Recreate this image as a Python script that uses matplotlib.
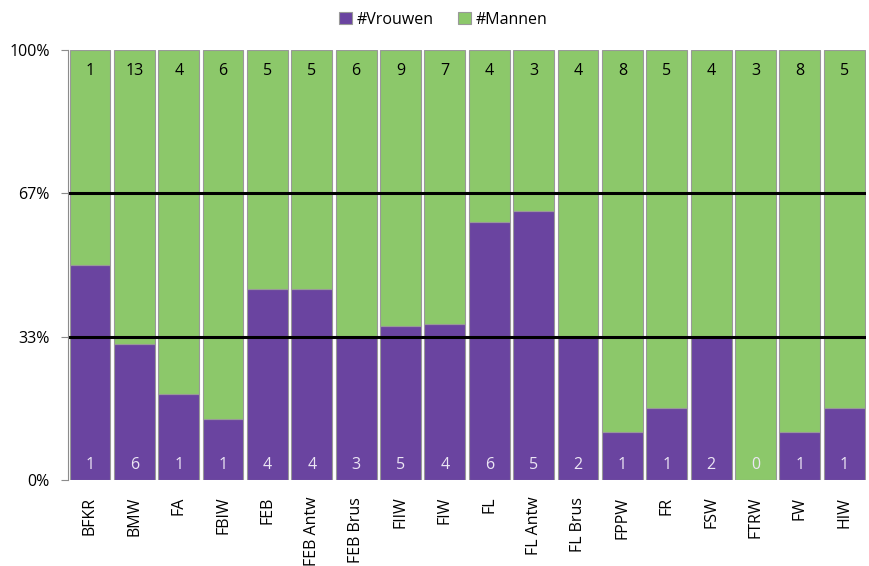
import numpy as np
import matplotlib.pyplot as plt

plt.rcParams['font.family'] = ['Open Sans', 'DejaVu Sans']

# Opleidingen en aantallen
opleidingen = ['BFKR', 'BMW', 'FA', 'FBIW', 'FEB', 'FEB Antw', 'FEB Brus', 'FIIW',
               'FIW', 'FL', 'FL Antw', 'FL Brus', 'FPPW', 'FR', 'FSW', 'FTRW', 'FW', 'HIW']
vrouwen = np.array([1, 6, 1, 1, 4, 4, 3, 5, 4, 6, 5, 2, 1, 1, 2, 0, 1, 1])
mannen = np.array([1, 13, 4, 6, 5, 5, 6, 9, 7, 4, 3, 4, 8, 5, 4, 3, 8, 5])

paars = '#6a44a0'
groen = '#8cc86a'

totaal = vrouwen + mannen
frac_v = vrouwen / totaal
frac_m = mannen / totaal
x = np.arange(len(opleidingen))

fig = plt.figure(figsize=(8.69, 5.66), dpi=100)
ax = fig.add_axes([0.078, 0.152, 0.919, 0.760])

ax.bar(x, frac_v, width=0.92, color=paars, edgecolor='#999999', linewidth=0.8, label='#Vrouwen')
ax.bar(x, frac_m, bottom=frac_v, width=0.92, color=groen, edgecolor='#999999', linewidth=0.8, label='#Mannen')

# aantallen in de balken
for i in range(len(x)):
    ax.text(x[i], 0.035, str(vrouwen[i]), ha='center', va='center', color='#ece6f4', fontsize=11.5)
    ax.text(x[i], 0.95, str(mannen[i]), ha='center', va='center', color='black', fontsize=11.5)

ax.axhline(1/3, color='black', linewidth=2.2)
ax.axhline(2/3, color='black', linewidth=2.2)

ax.set_xlim(-0.5, len(x) - 0.5)
ax.set_ylim(0, 1)
ax.set_yticks([0, 1/3, 2/3, 1])
ax.set_yticklabels(['0%', '33%', '67%', '100%'], fontsize=11.5)
ax.set_xticks(x)
ax.set_xticklabels(opleidingen, rotation=90, fontsize=11.5)
ax.tick_params(axis='x', length=0, pad=12)
ax.tick_params(axis='y', length=5, color='#8c8c8c', pad=8)

for s in ['top', 'right', 'bottom']:
    ax.spines[s].set_visible(False)
ax.spines['left'].set_color('#8c8c8c')

fig.legend(loc='upper center', bbox_to_anchor=(0.51, 1.005), ncol=2, frameon=False,
           fontsize=11.5, handlelength=0.8, handleheight=0.8, handletextpad=0.3, columnspacing=1.5)

fig.savefig('out.png', dpi=100)
